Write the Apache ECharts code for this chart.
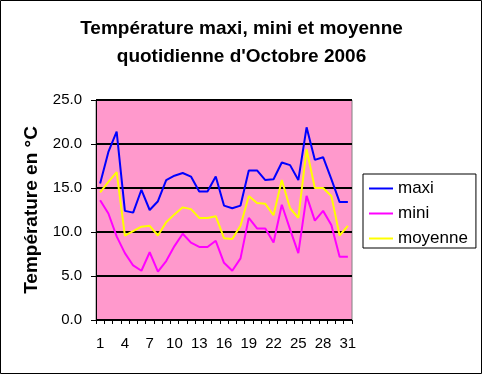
<!DOCTYPE html>
<html>
<head>
<meta charset="utf-8">
<script src="https://cdn.jsdelivr.net/npm/echarts@6/dist/echarts.min.js"></script>
<style>
html,body{margin:0;padding:0;background:#fff;}
#c{width:483px;height:375px;}
</style>
</head>
<body>
<div id="c"></div>
<script>
var days = [1,2,3,4,5,6,7,8,9,10,11,12,13,14,15,16,17,18,19,20,21,22,23,24,25,26,27,28,29,30,31];
var maxi = [15.5,19.1,21.4,12.4,12.2,14.8,12.5,13.5,15.9,16.4,16.7,16.3,14.6,14.6,16.3,13.0,12.7,13.0,17.0,17.0,15.9,16.0,17.9,17.6,15.9,21.9,18.2,18.5,16.0,13.4,13.4];
var mini = [13.6,12.1,9.5,7.6,6.2,5.6,7.7,5.5,6.7,8.4,9.8,8.8,8.3,8.3,9.0,6.5,5.6,7.0,11.6,10.4,10.4,8.8,13.1,10.3,7.6,14.1,11.3,12.4,10.8,7.2,7.2];
var moyenne = [14.5,15.7,16.8,9.6,10.1,10.6,10.7,9.6,11.1,12.0,12.8,12.6,11.6,11.6,11.8,9.3,9.2,10.7,14.1,13.3,13.2,11.9,15.9,12.7,11.6,19.4,15.0,15.0,14.1,9.6,10.7];
var seriesNames = ['maxi','mini','moyenne'];
var yTicks = {min:0, max:25, interval:5};

var font = 'Liberation Sans, Arial, sans-serif';
var chart = echarts.init(document.getElementById('c'), null, {renderer:'canvas'});
chart.setOption({
  animation:false,
  backgroundColor:'#fff',
  title:{
    text:'Température maxi, mini et moyenne\nquotidienne d\'Octobre 2006',
    left:'center', top:10,
    textStyle:{fontFamily:font, fontSize:19, fontWeight:'bold', color:'#000', lineHeight:28}
  },
  legend:{
    orient:'vertical', left:363, top:174,
    padding:[6,8,1,6],
    borderColor:'#000', borderWidth:1,
    itemGap:8, itemWidth:24, itemHeight:2, icon:'rect',
    textStyle:{fontFamily:font, fontSize:17, color:'#000', lineHeight:16},
    data:seriesNames
  },
  grid:{left:96, right:131, top:100, bottom:55, show:true,
    backgroundColor:'#FF99CC', borderColor:'#808080', borderWidth:1},
  xAxis:{
    type:'category', data:days, boundaryGap:true,
    axisLine:{lineStyle:{color:'#000', width:1}},
    axisTick:{show:true, interval:0, length:4, lineStyle:{color:'#000'}},
    axisLabel:{interval:2, color:'#000', fontFamily:font, fontSize:15, margin:16}
  },
  yAxis:{
    type:'value', min:yTicks.min, max:yTicks.max, interval:yTicks.interval,
    name:'Température en °C', nameLocation:'middle', nameRotate:90, nameGap:55,
    nameTextStyle:{fontFamily:font, fontSize:19, fontWeight:'bold', color:'#000'},
    axisLine:{show:true, lineStyle:{color:'#000', width:1}},
    axisTick:{show:true, length:5, lineStyle:{color:'#000'}},
    axisLabel:{color:'#000', fontFamily:font, fontSize:15, margin:14,
      formatter:function(v){return v.toFixed(1);}},
    splitLine:{show:true, lineStyle:{color:'#000', width:2}}
  },
  graphic:[{type:'rect', shape:{x:0.5,y:0.5,width:481,height:373},
    style:{fill:'none', stroke:'#000', lineWidth:1}, silent:true, z:100}],
  series:[
    {name:'maxi', type:'line', data:maxi, showSymbol:false, symbol:'none',
      lineStyle:{color:'#0000FF', width:2}, itemStyle:{color:'#0000FF'}},
    {name:'mini', type:'line', data:mini, showSymbol:false, symbol:'none',
      lineStyle:{color:'#FF00FF', width:2}, itemStyle:{color:'#FF00FF'}},
    {name:'moyenne', type:'line', data:moyenne, showSymbol:false, symbol:'none',
      lineStyle:{color:'#FFFF00', width:2}, itemStyle:{color:'#FFFF00'}}
  ]
});
</script>
</body>
</html>
